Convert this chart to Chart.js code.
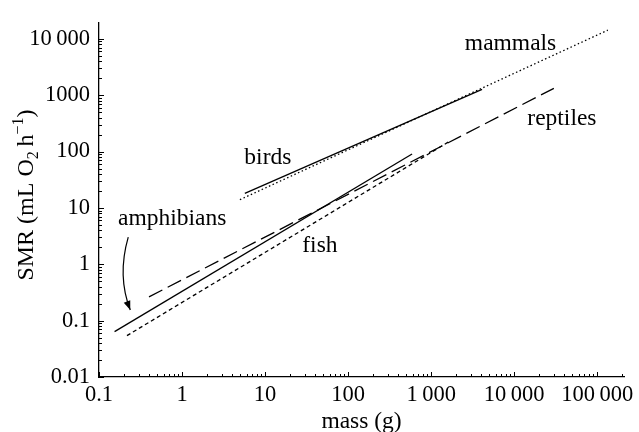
<!DOCTYPE html>
<html>
<head>
<meta charset="utf-8">
<script src="https://cdn.jsdelivr.net/npm/chart.js@4.4.1/dist/chart.umd.min.js"></script>
<style>
html, body { margin: 0; padding: 0; background: #fff; }
#wrap { width: 639px; height: 432px; }
</style>
</head>
<body>
<div id="wrap"><canvas id="smrChart"></canvas></div>
<script>
// values (mass in g, SMR in mL O2 h-1), two ends of each fitted line
var massMammals = [4.97, 134000];
var smrMammals = [14.0, 14260];
var massBirds = [5.7, 4100];
var smrBirds = [18.1, 1273];
var massReptiles = [0.40, 30000];
var smrReptiles = [0.264, 1325];
var massAmphibians = [0.154, 589];
var smrAmphibians = [0.0637, 90.4];
var massFish = [0.217, 1650];
var smrFish = [0.0542, 151];

var xTickValues = [0.1, 1, 10, 100, 1000, 10000, 100000];
var xTickLabels = ['0.1', '1', '10', '100', '1\u2009000', '10\u2009000', '100\u2009000'];
var yTickValues = [0.01, 0.1, 1, 10, 100, 1000, 10000];
var yTickLabels = ['0.01', '0.1', '1', '10', '100', '1000', '10\u2009000'];

// text labels in the plot, placed in data coordinates
var labelTexts = ['mammals', 'birds', 'reptiles', 'amphibians', 'fish'];
var labelMass = [9030, 10.8, 37500, 0.76, 45.7];
var labelSmr = [8110, 76, 380, 6.5, 2.11];
// curved arrow under "amphibians": start, control, tip
var arrowMass = [0.225, 0.165, 0.238];
var arrowSmr = [3.04, 0.62, 0.155];

var serif = "'Liberation Serif', 'Times New Roman', serif";

function pts(xs, ys) {
    return xs.map(function (x, i) { return { x: x, y: ys[i] }; });
}

function lineSet(label, xs, ys, dash) {
    return {
        label: label,
        data: pts(xs, ys),
        borderColor: '#000',
        borderWidth: 1.3,
        borderDash: dash,
        pointRadius: 0,
        fill: false,
        tension: 0
    };
}

var extrasPlugin = {
    id: 'extras',
    afterDraw: function (chart) {
        var ctx = chart.ctx;
        var xs = chart.scales.x, ys = chart.scales.y;
        var area = chart.chartArea;
        ctx.save();
        ctx.strokeStyle = '#000';
        ctx.fillStyle = '#000';
        ctx.lineWidth = 1;

        // inward ticks, major + minor
        ctx.beginPath();
        for (var e = -1; e <= 5; e++) {
            for (var m = 1; m <= 9; m++) {
                var v = m * Math.pow(10, e);
                if (v < xs.min || v > xs.max) continue;
                var px = Math.round(xs.getPixelForValue(v)) + 0.5;
                var len = m === 1 ? 5 : 3;
                ctx.moveTo(px, area.bottom);
                ctx.lineTo(px, area.bottom - len);
            }
        }
        for (var e2 = -2; e2 <= 4; e2++) {
            for (var m2 = 1; m2 <= 9; m2++) {
                var v2 = m2 * Math.pow(10, e2);
                if (v2 < ys.min || v2 > ys.max) continue;
                var py = Math.round(ys.getPixelForValue(v2)) + 0.5;
                var len2 = m2 === 1 ? 5 : 3;
                ctx.moveTo(area.left, py);
                ctx.lineTo(area.left + len2, py);
            }
        }
        ctx.stroke();

        // line labels
        ctx.font = '23.5px ' + serif;
        ctx.textAlign = 'center';
        ctx.textBaseline = 'middle';
        labelTexts.forEach(function (t, i) {
            ctx.fillText(t, xs.getPixelForValue(labelMass[i]), ys.getPixelForValue(labelSmr[i]));
        });

        // curved arrow
        var p = arrowMass.map(function (mv, i) {
            return [xs.getPixelForValue(mv), ys.getPixelForValue(arrowSmr[i])];
        });
        ctx.lineWidth = 1.2;
        ctx.beginPath();
        ctx.moveTo(p[0][0], p[0][1]);
        ctx.quadraticCurveTo(p[1][0], p[1][1], p[2][0], p[2][1]);
        ctx.stroke();
        var ang = Math.atan2(p[2][1] - p[1][1], p[2][0] - p[1][0]);
        ctx.beginPath();
        ctx.moveTo(p[2][0], p[2][1]);
        ctx.lineTo(p[2][0] - 9 * Math.cos(ang) + 3.5 * Math.sin(ang), p[2][1] - 9 * Math.sin(ang) - 3.5 * Math.cos(ang));
        ctx.lineTo(p[2][0] - 9 * Math.cos(ang) - 3.5 * Math.sin(ang), p[2][1] - 9 * Math.sin(ang) + 3.5 * Math.cos(ang));
        ctx.closePath();
        ctx.fill();

        // x axis title
        ctx.textBaseline = 'alphabetic';
        ctx.fillText('mass (g)', (area.left + area.right) / 2, 428);

        // y axis title, with sub/superscripts
        var parts = [
            { t: 'SMR (mL O', size: 24, dy: 0 },
            { t: '2', size: 16, dy: 5 },
            { t: '\u2009h', size: 24, dy: 0 },
            { t: '\u22121', size: 16, dy: -10 },
            { t: ')', size: 24, dy: 0 }
        ];
        var total = 0;
        parts.forEach(function (pp) {
            ctx.font = pp.size + 'px ' + serif;
            pp.w = ctx.measureText(pp.t).width;
            total += pp.w;
        });
        ctx.translate(33, 195);
        ctx.rotate(-Math.PI / 2);
        ctx.textAlign = 'left';
        var cx = -total / 2;
        parts.forEach(function (pp) {
            ctx.font = pp.size + 'px ' + serif;
            ctx.fillText(pp.t, cx, pp.dy);
            cx += pp.w;
        });
        ctx.restore();
    }
};

var ctx = document.getElementById('smrChart').getContext('2d');
new Chart(ctx, {
    type: 'line',
    data: {
        datasets: [
            lineSet('mammals', massMammals, smrMammals, [1.5, 2.5]),
            lineSet('birds', massBirds, smrBirds, []),
            lineSet('reptiles', massReptiles, smrReptiles, [15, 6]),
            lineSet('amphibians', massAmphibians, smrAmphibians, []),
            lineSet('fish', massFish, smrFish, [4, 3])
        ]
    },
    options: {
        responsive: true,
        maintainAspectRatio: false,
        animation: false,
        layout: { padding: { top: 17, right: 14, left: 0, bottom: 0 } },
        plugins: {
            legend: { display: false },
            tooltip: { enabled: false }
        },
        scales: {
            x: {
                type: 'logarithmic',
                min: 0.1,
                max: 210000,
                afterBuildTicks: function (s) { s.ticks = xTickValues.map(function (v) { return { value: v }; }); },
                afterFit: function (s) { s.height = 55; },
                grid: { display: false, drawTicks: false },
                border: { display: true, color: '#000', width: 1.3 },
                ticks: {
                    color: '#000',
                    font: { family: serif, size: 22.5 },
                    padding: 5,
                    maxRotation: 0,
                    autoSkip: false,
                    callback: function (v, i) { return xTickLabels[i]; }
                }
            },
            y: {
                type: 'logarithmic',
                min: 0.01,
                max: 19500,
                afterBuildTicks: function (s) { s.ticks = yTickValues.map(function (v) { return { value: v }; }); },
                afterFit: function (s) { s.width = 99; },
                grid: { display: false, drawTicks: false },
                border: { display: true, color: '#000', width: 1.3 },
                ticks: {
                    color: '#000',
                    font: { family: serif, size: 22.5 },
                    padding: 9,
                    autoSkip: false,
                    callback: function (v, i) { return yTickLabels[i]; }
                }
            }
        }
    },
    plugins: [extrasPlugin]
});
</script>
</body>
</html>
